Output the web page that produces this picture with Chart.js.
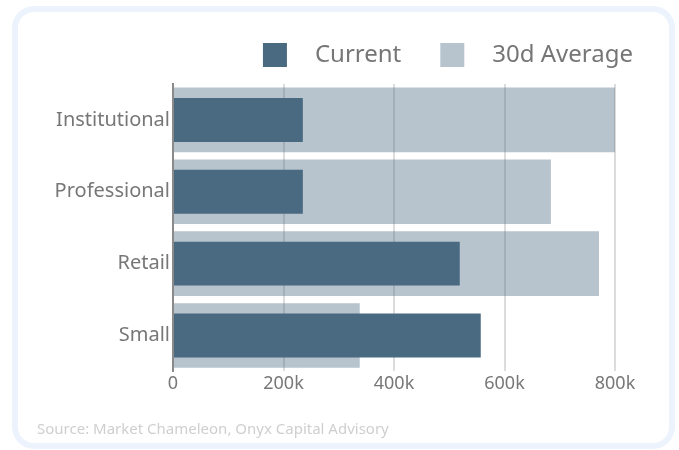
<!DOCTYPE html>
<html>
<head>
<meta charset="utf-8">
<script src="https://cdn.jsdelivr.net/npm/chart.js@4"></script>
<style>
  body { margin: 0; background: #fff; width: 679px; height: 450px; overflow: hidden; }
  .card {
    position: absolute; left: 12px; top: 6px; width: 663px; height: 443px;
    box-sizing: border-box; border: 6px solid #edf3fd; border-radius: 22px; background: #fff;
  }
  .wrap { position: absolute; left: 18px; top: 12px; width: 651px; height: 432px; }
</style>
</head>
<body>
<div class="card"></div>
<div class="wrap"><canvas id="myChart"></canvas></div>
<script>
// categories and values (shares volume)
var categories = ["Institutional", "Professional", "Retail", "Small"];
var currentValues = [235000, 235000, 519000, 557000];
var averageValues = [800000, 684000, 771000, 338000];
var xTicks = [0, 200000, 400000, 600000, 800000];

var darkColor = "#4a6a82";
var lightColor = "rgba(74, 106, 130, 0.4)";

//Legend swatch: a square with empty space round it, so the items sit apart.
function legendSwatch(color) {
	let c = document.createElement("canvas");
	c.width = 59;
	c.height = 24;
	let g = c.getContext("2d");
	g.fillStyle = color;
	g.fillRect(19, 0, 24, 24);
	return c;
}

//Lifts the legend a little, leaving a wider gap above the plot.
var legendNudge = {
	id: "legendNudge",
	afterLayout: function (chart) {
		chart.legend.top -= 7;
	}
};

var ctx = document.getElementById("myChart").getContext("2d");
var myChart = new Chart(ctx, {
	type: "bar",
	data: {
		labels: categories,
		datasets: [{
			label: "Current",
			data: currentValues,
			backgroundColor: darkColor,
			grouped: false,
			categoryPercentage: 0.9,
			barPercentage: 0.68,
			pointStyle: legendSwatch(darkColor)
		}, {
			label: "30d Average",
			data: averageValues,
			backgroundColor: lightColor,
			grouped: false,
			categoryPercentage: 0.9,
			barPercentage: 1,
			pointStyle: legendSwatch("#b7c3cd")
		}]
	},
	plugins: [legendNudge],
	options: {
		indexAxis: "y",
		responsive: true,
		maintainAspectRatio: false,
		animation: false,
		layout: { padding: { left: 19, right: 16, top: 18, bottom: 5 } },
		plugins: {
			legend: {
				align: "end",
				labels: {
					usePointStyle: true,
					pointStyleWidth: 59,
					font: { family: "Noto Sans", size: 24 },
					color: "#767676",
					padding: 20
				}
			},
			tooltip: { enabled: false },
			title: {
				display: true,
				position: "bottom",
				align: "start",
				text: "Source: Market Chameleon, Onyx Capital Advisory",
				color: "#cfcfcf",
				font: { family: "Noto Sans", size: 15, weight: "normal" },
				padding: { top: 24, bottom: 0 }
			}
		},
		scales: {
			x: {
				min: 0,
				max: 800000,
				afterBuildTicks: function (scale) {
					scale.ticks = xTicks.map(function (v) { return { value: v }; });
				},
				afterFit: function (scale) { scale.paddingRight = 54; },
				ticks: {
					callback: function (v) { return v === 0 ? "0" : (v / 1000) + "k"; },
					font: { family: "Noto Sans", size: 18 },
					color: "#777",
					padding: 2
				},
				grid: { color: "#dcdcdc", lineWidth: 2, drawTicks: false },
				border: { display: false }
			},
			y: {
				afterFit: function (scale) { scale.width = 136; },
				ticks: {
					font: { family: "Noto Sans", size: 20 },
					color: "#777",
					padding: 3
				},
				grid: { display: false, drawTicks: false },
				border: { display: true, color: "#8a8a8a", width: 2 }
			}
		}
	}
});
</script>
</body>
</html>
